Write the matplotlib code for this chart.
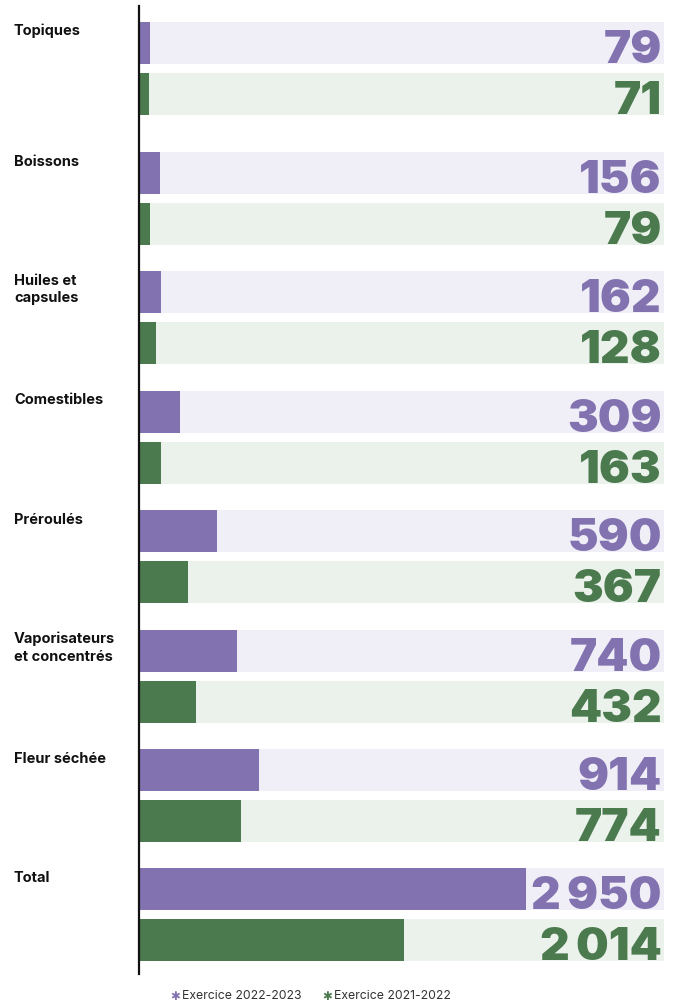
import matplotlib.pyplot as plt
from matplotlib.lines import Line2D

categories = ['Topiques', 'Boissons', 'Huiles et\ncapsules', 'Comestibles',
              'Préroulés', 'Vaporisateurs\net concentrés', 'Fleur séchée', 'Total']
values_2023 = [79, 156, 162, 309, 590, 740, 914, 2950]
values_2022 = [71, 79, 128, 163, 367, 432, 774, 2014]
series_labels = ['Exercice 2022-2023', 'Exercice 2021-2022']

PURPLE = '#8272b0'
PURPLE_BG = '#f0eff7'
GREEN = '#4a7a4d'
GREEN_BG = '#ebf1eb'

W, H = 678, 1005
scale_max = 4000          # full width of the background track
bar_h = 42
gap = 9
group_tops = [22] + [152 + 119.4 * i for i in range(len(categories) - 1)]


def fmt(v):
    s = f'{v:,}'
    return s.replace(',', '\u2009')


fig = plt.figure(figsize=(W / 100, H / 100), dpi=100)
ax = fig.add_axes([139.5 / W, 0, 524.5 / W, 1])
ax.set_xlim(0, scale_max)
ax.set_ylim(H, 0)
ax.axis('off')

num_font = dict(family='Inter', weight='black', size=33)

for cat, v1, v2, top in zip(categories, values_2023, values_2022, group_tops):
    y1 = top + bar_h / 2
    y2 = top + bar_h + gap + bar_h / 2
    ax.barh(y1, scale_max, height=bar_h, color=PURPLE_BG, lw=0)
    ax.barh(y2, scale_max, height=bar_h, color=GREEN_BG, lw=0)
    ax.barh(y1, v1, height=bar_h, color=PURPLE, lw=0)
    ax.barh(y2, v2, height=bar_h, color=GREEN, lw=0)

    ax.text(scale_max - 18, top + bar_h - 1, fmt(v1), ha='right', va='baseline',
            color=PURPLE, **num_font)
    ax.text(scale_max - 18, top + 2 * bar_h + gap - 1, fmt(v2), ha='right',
            va='baseline', color=GREEN, **num_font)

    # category label, one text per line so the baseline spacing stays fixed
    for k, line in enumerate(cat.split('\n')):
        fig.text(14 / W, 1 - (top + 13.5 + 17.5 * k) / H, line, ha='left',
                 va='baseline', family='Inter', weight='bold', size=10.5,
                 color='#111111')

# vertical axis line
fig.add_artist(Line2D([138.5 / W, 138.5 / W], [1 - 6 / H, 1 - 974 / H],
                      color='#111111', lw=1.6))

# legend
ly = 1 - 996 / H
for x0, label, col in [(170, series_labels[0], PURPLE), (322, series_labels[1], GREEN)]:
    fig.text(x0 / W, ly, '\u2731', ha='left', va='center', family='DejaVu Sans',
             size=8.5, color=col)
    fig.text((x0 + 12) / W, ly, label, ha='left', va='center', family='Inter',
             size=8.8, color='#333333')

fig.savefig('out.png', dpi=100)
